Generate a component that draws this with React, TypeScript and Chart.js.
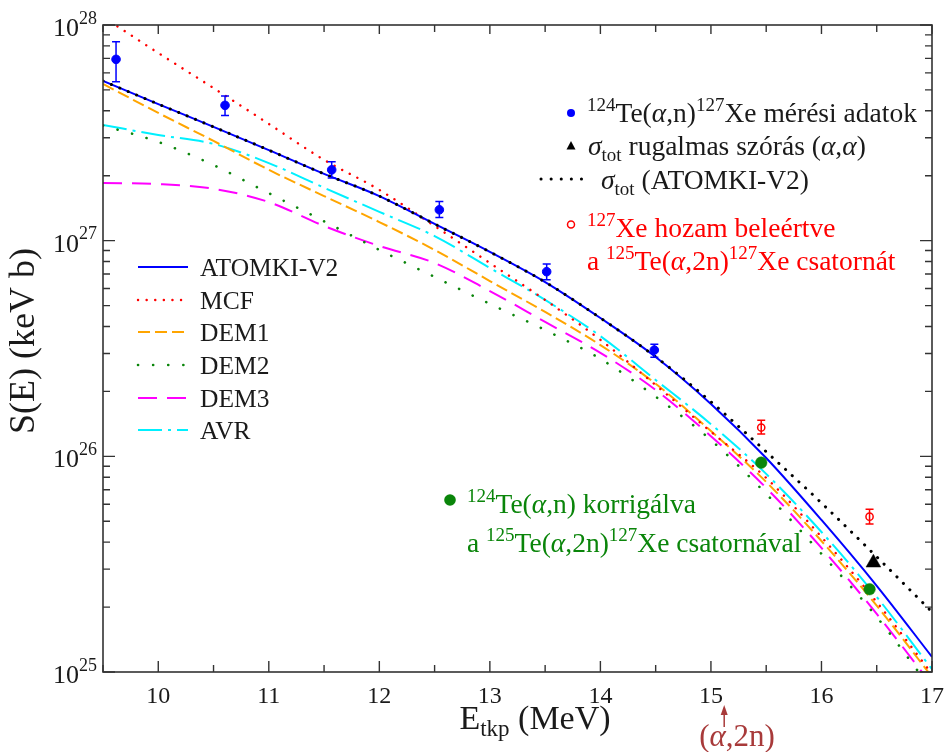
import React, { useEffect, useRef } from "react";
import { Chart, registerables } from "chart.js";

Chart.register(...registerables);

const FONT = '"Liberation Serif", "Times New Roman", serif';

// ---------- data ----------
const energyGrid = [9.5, 10, 10.5, 11, 11.5, 12, 12.5, 13, 13.5, 14, 14.5, 15, 15.5, 16, 16.5, 17];

const atomkiV2 = [5.5e27, 4.3e27, 3.37e27, 2.63e27, 2.04e27, 1.61e27, 1.195e27, 8.87e26, 6.43e26, 4.38e26, 2.89e26, 1.75e26, 9.83e25, 5.07e25, 2.51e25, 1.175e25];
const mcf = [1.09e28, 7.42e27, 5.1e27, 3.48e27, 2.37e27, 1.72e27, 1.17e27, 7.88e26, 5.31e26, 3.47e26, 2.14e26, 1.3e26, 7.94e25, 4.23e25, 2.11e25, 9.8e24];
const dem1 = [5.33e27, 3.91e27, 2.9e27, 2.13e27, 1.61e27, 1.22e27, 9.06e26, 6.5e26, 4.67e26, 3.28e26, 2.17e26, 1.31e26, 7.61e25, 4.05e25, 2.03e25, 9.49e24];
const dem2 = [3.42e27, 2.87e27, 2.24e27, 1.66e27, 1.23e27, 9.06e26, 6.79e26, 5.09e26, 3.85e26, 2.83e26, 1.89e26, 1.19e26, 6.7e25, 3.53e25, 1.8e25, 8.26e24];
const dem3 = [1.85e27, 1.83e27, 1.74e27, 1.51e27, 1.17e27, 9.45e26, 7.88e26, 5.84e26, 4.2e26, 3.02e26, 2.03e26, 1.24e26, 7.14e25, 3.76e25, 1.86e25, 8.71e24];
const avr = [3.44e27, 3.09e27, 2.81e27, 2.29e27, 1.76e27, 1.36e27, 1.05e27, 7.47e26, 5.31e26, 3.61e26, 2.26e26, 1.41e26, 8.29e25, 4.46e25, 2.23e25, 1.03e25];
const sigmaTot = [5.5e27, 4.3e27, 3.37e27, 2.63e27, 2.04e27, 1.61e27, 1.195e27, 8.87e26, 6.43e26, 4.38e26, 2.89e26, 1.79e26, 1.05e26, 6.08e25, 3.42e25, 1.9e25];

const measE = [9.618, 10.604, 11.569, 12.543, 13.514, 14.488];
const measS = [6.93e27, 4.24e27, 2.13e27, 1.39e27, 7.18e26, 3.11e26];
const measLo = [5.46e27, 3.81e27, 1.95e27, 1.28e27, 6.58e26, 2.88e26];
const measHi = [8.37e27, 4.69e27, 2.32e27, 1.52e27, 7.8e26, 3.31e26];

const yieldE = [15.455, 16.435];
const yieldS = [1.36e26, 5.25e25];
const yieldLo = [1.27e26, 4.86e25];
const yieldHi = [1.47e26, 5.68e25];

const corrE = [15.455, 16.435];
const corrS = [9.35e25, 2.42e25];

const elasticE = [16.47];
const elasticS = [3.21e25];

const xMajorTicks = [10, 11, 12, 13, 14, 15, 16, 17];
const xMinorTicks = [9.5, 10.5, 11.5, 12.5, 13.5, 14.5, 15.5, 16.5];
const yDecadeExponents = [25, 26, 27, 28];
const yMinorMantissas = [2, 3, 4, 5, 6, 7, 8, 9];

const alpha2nThreshold = 15.12;

const xTitle = [{ t: "E" }, { t: "tkp", m: "sub" }, { t: " (MeV)" }];
const yTitle = "S(E) (keV b)";

const modelLabels = ["ATOMKI-V2", "MCF", "DEM1", "DEM2", "DEM3", "AVR"];

const legendMeas = [{ t: "124", m: "sup" }, { t: "Te(" }, { t: "α", i: true }, { t: ",n)" }, { t: "127", m: "sup" }, { t: "Xe mérési adatok" }];
const legendElastic = [{ t: "σ", i: true }, { t: "tot", m: "sub" }, { t: " rugalmas szórás (" }, { t: "α", i: true }, { t: "," }, { t: "α", i: true }, { t: ")" }];
const legendSigma = [{ t: "σ", i: true }, { t: "tot", m: "sub" }, { t: " (ATOMKI-V2)" }];
const legendYield1 = [{ t: "127", m: "sup" }, { t: "Xe hozam beleértve" }];
const legendYield2 = [{ t: "a " }, { t: "125", m: "sup" }, { t: "Te(" }, { t: "α", i: true }, { t: ",2n)" }, { t: "127", m: "sup" }, { t: "Xe csatornát" }];
const legendCorr1 = [{ t: "124", m: "sup" }, { t: "Te(" }, { t: "α", i: true }, { t: ",n) korrigálva" }];
const legendCorr2 = [{ t: "a " }, { t: "125", m: "sup" }, { t: "Te(" }, { t: "α", i: true }, { t: ",2n)" }, { t: "127", m: "sup" }, { t: "Xe csatornával" }];
const alpha2nLabel = [{ t: "(" }, { t: "α", i: true }, { t: ",2n)" }];

// ---------- colours ----------
const BLUE = "#0000ff";
const RED = "#ff0000";
const ORANGE = "#ffa500";
const GREEN = "#0a850a";
const MAGENTA = "#ff00ff";
const CYAN = "#00f0ff";
const TEXT = "#1a1a1a";
const AXIS = "#333333";
const BROWN = "#a83a3a";

type Seg = { t: string; m?: "sup" | "sub"; i?: boolean };

function richWidth(ctx: CanvasRenderingContext2D, segs: Seg[], size: number) {
  let w = 0;
  for (const s of segs) {
    const fs = s.m ? Math.round(size * 0.68) : size;
    ctx.font = `${s.i ? "italic " : ""}${fs}px ${FONT}`;
    w += ctx.measureText(s.t).width;
  }
  return w;
}

function drawRich(ctx: CanvasRenderingContext2D, segs: Seg[], x: number, y: number, size: number, color: string) {
  ctx.save();
  ctx.fillStyle = color;
  ctx.textAlign = "left";
  ctx.textBaseline = "alphabetic";
  let cx = x;
  for (const s of segs) {
    const fs = s.m ? Math.round(size * 0.68) : size;
    ctx.font = `${s.i ? "italic " : ""}${fs}px ${FONT}`;
    const dy = s.m === "sup" ? -size * 0.4 : s.m === "sub" ? size * 0.2 : 0;
    ctx.fillText(s.t, cx, y + dy);
    cx += ctx.measureText(s.t).width;
  }
  ctx.restore();
}

const toPts = (xs: number[], ys: number[]) => xs.map((x, i) => ({ x, y: ys[i] }));

const errorBarPlugin = {
  id: "errorBars",
  afterDatasetsDraw(chart: any) {
    const ctx = chart.ctx as CanvasRenderingContext2D;
    const xs = chart.scales.x;
    const ys = chart.scales.y;
    chart.data.datasets.forEach((ds: any) => {
      if (!ds.errLo) return;
      ctx.save();
      ctx.strokeStyle = ds.errColor;
      ctx.lineWidth = 1.5;
      ds.data.forEach((p: any, i: number) => {
        const x = xs.getPixelForValue(p.x);
        const y1 = ys.getPixelForValue(ds.errLo[i]);
        const y2 = ys.getPixelForValue(ds.errHi[i]);
        ctx.beginPath();
        ctx.moveTo(x, y1);
        ctx.lineTo(x, y2);
        ctx.moveTo(x - 4, y1);
        ctx.lineTo(x + 4, y1);
        ctx.moveTo(x - 4, y2);
        ctx.lineTo(x + 4, y2);
        ctx.stroke();
      });
      ctx.restore();
    });
  },
};

const decorPlugin = {
  id: "decor",
  afterDraw(chart: any) {
    const ctx = chart.ctx as CanvasRenderingContext2D;
    const { left, right, top, bottom } = chart.chartArea;
    const xs = chart.scales.x;
    const ys = chart.scales.y;
    ctx.save();

    // frame
    ctx.strokeStyle = AXIS;
    ctx.lineWidth = 1.6;
    ctx.setLineDash([]);
    ctx.strokeRect(left, top, right - left, bottom - top);

    // x ticks
    ctx.lineWidth = 1.4;
    ctx.beginPath();
    for (const v of xMajorTicks) {
      const x = xs.getPixelForValue(v);
      ctx.moveTo(x, bottom); ctx.lineTo(x, bottom - 11);
      ctx.moveTo(x, top); ctx.lineTo(x, top + 9);
    }
    for (const v of xMinorTicks) {
      const x = xs.getPixelForValue(v);
      ctx.moveTo(x, bottom); ctx.lineTo(x, bottom - 7);
      ctx.moveTo(x, top); ctx.lineTo(x, top + 7);
    }
    // y ticks
    for (const p of yDecadeExponents) {
      const y = ys.getPixelForValue(Math.pow(10, p));
      ctx.moveTo(left, y); ctx.lineTo(left + 12, y);
      ctx.moveTo(right, y); ctx.lineTo(right - 12, y);
      if (p < yDecadeExponents[yDecadeExponents.length - 1]) {
        for (const m of yMinorMantissas) {
          const ym = ys.getPixelForValue(m * Math.pow(10, p));
          ctx.moveTo(left, ym); ctx.lineTo(left + 7, ym);
          ctx.moveTo(right, ym); ctx.lineTo(right - 7, ym);
        }
      }
    }
    ctx.stroke();

    // x tick labels
    ctx.fillStyle = TEXT;
    ctx.font = `24px ${FONT}`;
    ctx.textAlign = "center";
    ctx.textBaseline = "alphabetic";
    for (const v of xMajorTicks) {
      ctx.fillText(String(v), xs.getPixelForValue(v), bottom + 31);
    }
    // y tick labels
    for (const p of yDecadeExponents) {
      const y = ys.getPixelForValue(Math.pow(10, p));
      ctx.textAlign = "left";
      ctx.font = `18px ${FONT}`;
      const supW = ctx.measureText(String(p)).width;
      ctx.font = `26px ${FONT}`;
      const mainW = ctx.measureText("10").width;
      const xEnd = left - 6;
      ctx.fillText("10", xEnd - supW - mainW, y + 11);
      ctx.font = `18px ${FONT}`;
      ctx.fillText(String(p), xEnd - supW, y - 1.5);
    }

    // axis titles
    const xtw = richWidth(ctx, xTitle as Seg[], 34);
    drawRich(ctx, xTitle as Seg[], 535 - xtw / 2, 729, 34, TEXT);
    ctx.save();
    ctx.translate(25, 341);
    ctx.rotate(-Math.PI / 2);
    ctx.font = `36px ${FONT}`;
    ctx.fillStyle = TEXT;
    ctx.textAlign = "center";
    ctx.textBaseline = "middle";
    ctx.fillText(yTitle, 0, 0);
    ctx.restore();

    // (alpha,2n) threshold arrow
    const ax = xs.getPixelForValue(alpha2nThreshold);
    ctx.strokeStyle = BROWN;
    ctx.fillStyle = BROWN;
    ctx.lineWidth = 1.5;
    ctx.beginPath();
    ctx.moveTo(ax, 727); ctx.lineTo(ax, 712);
    ctx.stroke();
    ctx.beginPath();
    ctx.moveTo(ax - 3.5, 715); ctx.lineTo(ax + 3.5, 715); ctx.lineTo(ax, 705);
    ctx.closePath();
    ctx.fill();
    const aw = richWidth(ctx, alpha2nLabel as Seg[], 31);
    drawRich(ctx, alpha2nLabel as Seg[], 737 - aw / 2, 746, 31, BROWN);

    // left legend (models)
    const modelSets = chart.data.datasets.filter((d: any) => modelLabels.includes(d.label));
    const rows = [267, 300, 332, 365, 398, 430];
    modelLabels.forEach((lab, i) => {
      const ds = modelSets.find((d: any) => d.label === lab);
      if (!ds) return;
      ctx.save();
      ctx.strokeStyle = ds.borderColor;
      ctx.lineWidth = ds.borderWidth;
      ctx.lineCap = ds.borderCapStyle || "butt";
      ctx.setLineDash(ds.borderDash || []);
      ctx.beginPath();
      ctx.moveTo(138, rows[i]);
      ctx.lineTo(188, rows[i]);
      ctx.stroke();
      ctx.restore();
      drawRich(ctx, [{ t: lab }], 200, rows[i] + 9, 25.5, TEXT);
    });

    // top-right legend
    const LS = 27.5;
    ctx.fillStyle = BLUE;
    ctx.beginPath(); ctx.arc(571, 113, 4, 0, Math.PI * 2); ctx.fill();
    drawRich(ctx, legendMeas as Seg[], 587, 122, LS, TEXT);

    ctx.fillStyle = "#000";
    ctx.beginPath();
    ctx.moveTo(571, 141); ctx.lineTo(575.5, 149.5); ctx.lineTo(566.5, 149.5); ctx.closePath(); ctx.fill();
    drawRich(ctx, legendElastic as Seg[], 588, 155, LS, TEXT);

    ctx.save();
    ctx.strokeStyle = "#000";
    ctx.lineWidth = 3;
    ctx.lineCap = "round";
    ctx.setLineDash([0.1, 10]);
    ctx.beginPath(); ctx.moveTo(541, 179); ctx.lineTo(586, 179); ctx.stroke();
    ctx.restore();
    drawRich(ctx, legendSigma as Seg[], 601, 189, LS, TEXT);

    ctx.strokeStyle = RED;
    ctx.lineWidth = 1.5;
    ctx.setLineDash([]);
    ctx.beginPath(); ctx.arc(571, 224.5, 3.5, 0, Math.PI * 2); ctx.stroke();
    drawRich(ctx, legendYield1 as Seg[], 587, 237, LS, RED);
    drawRich(ctx, legendYield2 as Seg[], 587, 270, LS, RED);

    // corrected-data annotation
    ctx.fillStyle = GREEN;
    ctx.beginPath(); ctx.arc(450, 500, 5.8, 0, Math.PI * 2); ctx.fill();
    drawRich(ctx, legendCorr1 as Seg[], 467, 513, LS, GREEN);
    drawRich(ctx, legendCorr2 as Seg[], 467, 552, LS, GREEN);

    ctx.restore();
  },
};

export default function App() {
  const ref = useRef<HTMLCanvasElement>(null);
  useEffect(() => {
    if (!ref.current) return;
    const lineBase = { pointRadius: 0, fill: false, cubicInterpolationMode: "monotone" as const, showLine: true };
    const chart = new Chart(ref.current, {
      type: "line",
      data: {
        datasets: [
          { label: "corr", data: toPts(corrE, corrS), showLine: false, pointRadius: 5.8, pointBackgroundColor: GREEN, pointBorderColor: GREEN, pointBorderWidth: 0.5 } as any,
          { label: "elastic", data: toPts(elasticE, elasticS), showLine: false, pointStyle: "triangle", pointRadius: 8.5, pointBackgroundColor: "#000", pointBorderColor: "#000", pointBorderWidth: 0.5 } as any,
          { label: "yield", data: toPts(yieldE, yieldS), showLine: false, pointRadius: 3.6, pointBackgroundColor: "#fff", pointBorderColor: RED, pointBorderWidth: 1.5, errLo: yieldLo, errHi: yieldHi, errColor: RED } as any,
          { label: "meas", data: toPts(measE, measS), showLine: false, pointRadius: 4.3, pointBackgroundColor: BLUE, pointBorderColor: BLUE, pointBorderWidth: 1, errLo: measLo, errHi: measHi, errColor: BLUE } as any,
          { ...lineBase, label: "sigmaTot", data: toPts(energyGrid, sigmaTot), borderColor: "#000", borderWidth: 3, borderDash: [0.1, 9], borderCapStyle: "round" } as any,
          { ...lineBase, label: "ATOMKI-V2", data: toPts(energyGrid, atomkiV2), borderColor: BLUE, borderWidth: 2 } as any,
          { ...lineBase, label: "MCF", data: toPts(energyGrid, mcf), borderColor: RED, borderWidth: 2.4, borderDash: [0.1, 8.5], borderCapStyle: "round" } as any,
          { ...lineBase, label: "DEM1", data: toPts(energyGrid, dem1), borderColor: ORANGE, borderWidth: 2, borderDash: [12, 5] } as any,
          { ...lineBase, label: "DEM2", data: toPts(energyGrid, dem2), borderColor: GREEN, borderWidth: 2.6, borderDash: [0.1, 15], borderCapStyle: "round" } as any,
          { ...lineBase, label: "DEM3", data: toPts(energyGrid, dem3), borderColor: MAGENTA, borderWidth: 2, borderDash: [19, 10] } as any,
          { ...lineBase, label: "AVR", data: toPts(energyGrid, avr), borderColor: CYAN, borderWidth: 2, borderDash: [24, 6, 3, 6] } as any,
        ],
      },
      options: {
        animation: false,
        responsive: false,
        devicePixelRatio: 1,
        events: [],
        layout: { padding: { left: 0, right: 12, top: 25, bottom: 0 } },
        plugins: { legend: { display: false }, tooltip: { enabled: false }, title: { display: false } },
        scales: {
          x: {
            type: "linear", min: 9.5, max: 17,
            grid: { display: false, drawTicks: false }, border: { display: false },
            ticks: { display: false },
            afterFit: (s: any) => { s.height = 80; },
          },
          y: {
            type: "logarithmic", min: 1e25, max: 1e28,
            grid: { display: false, drawTicks: false }, border: { display: false },
            ticks: { display: false },
            afterFit: (s: any) => { s.width = 103; },
          },
        },
      } as any,
      plugins: [errorBarPlugin, decorPlugin],
    });
    return () => chart.destroy();
  }, []);
  return (
    <div style={{ position: "fixed", left: 0, top: 0, width: 944, height: 752, background: "#fff" }}>
      <canvas ref={ref} width={944} height={752} style={{ display: "block", width: 944, height: 752 }} />
    </div>
  );
}
